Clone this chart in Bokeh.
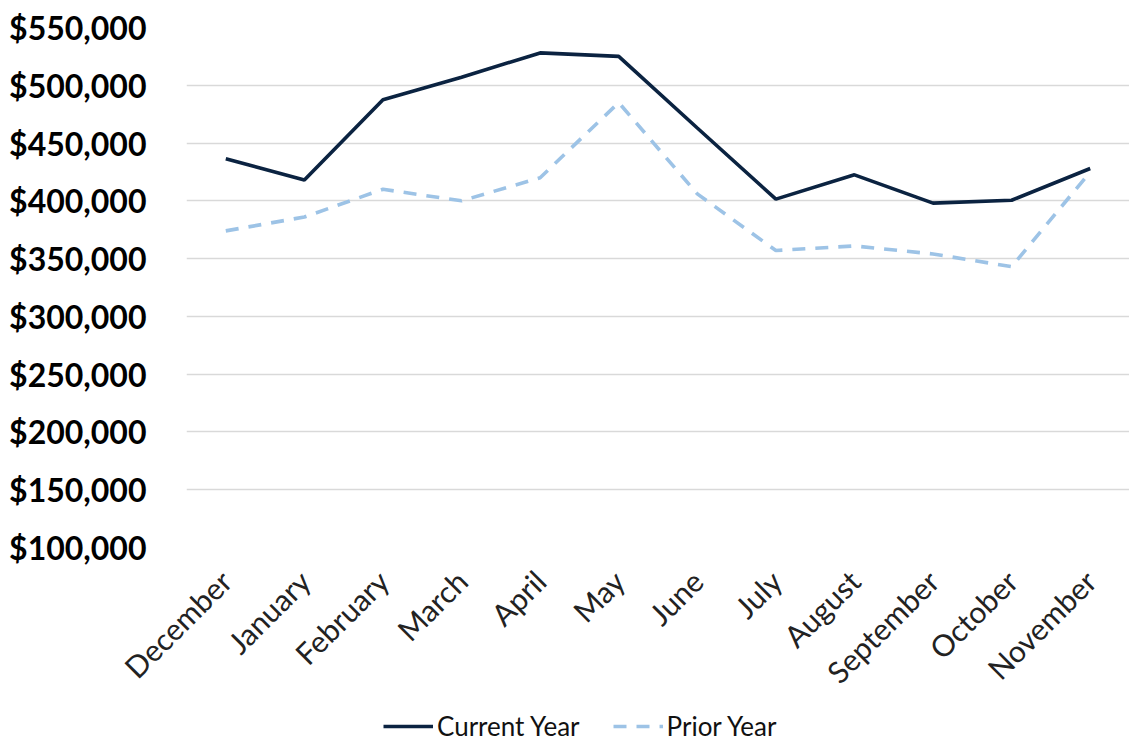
import math
from bokeh.plotting import figure
from bokeh.layouts import column
from bokeh.models import FixedTicker, NumeralTickFormatter, Legend, LegendItem, Range1d
from bokeh.embed import file_html
from bokeh.resources import INLINE

months = ["December", "January", "February", "March", "April", "May",
          "June", "July", "August", "September", "October", "November"]
current_year = [436500, 418000, 487500, 507000, 528000, 525000,
                463000, 401500, 422500, 398000, 400500, 428000]
prior_year = [374000, 386000, 410000, 400000, 420000, 485000,
              406000, 357000, 361000, 354000, 343000, 425000]
y_ticks = [100000, 150000, 200000, 250000, 300000, 350000,
           400000, 450000, 500000, 550000]

CUR_COLOR = "#0b2341"
PRI_COLOR = "#9dc3e6"

p = figure(x_range=months, y_range=(100000, 550000),
           width=1129, height=705, output_backend="svg", toolbar_location=None,
           min_border_left=186, min_border_right=0, min_border_top=27,
           min_border_bottom=158)
p.x_range.range_padding = 0
p.outline_line_color = None
p.background_fill_color = "white"
p.border_fill_color = "white"

p.xgrid.grid_line_color = None
p.ygrid.grid_line_color = "#d9d9d9"
p.ygrid.grid_line_width = 1.3

p.yaxis.ticker = FixedTicker(ticks=y_ticks)
p.yaxis.formatter = NumeralTickFormatter(format="$0,0")
p.yaxis.axis_line_color = None
p.yaxis.major_tick_line_color = None
p.yaxis.minor_tick_line_color = None
p.yaxis.major_label_text_font = "Lato"
p.yaxis.major_label_text_font_style = "bold"
p.yaxis.major_label_text_font_size = "32px"
p.yaxis.major_label_text_color = "#000000"
p.yaxis.major_label_standoff = 34

p.xaxis.axis_line_color = None
p.xaxis.major_tick_line_color = None
p.xaxis.minor_tick_line_color = None
p.xaxis.major_label_orientation = math.pi / 4
p.xaxis.major_label_text_font = "Lato"
p.xaxis.major_label_text_font_size = "30px"
p.xaxis.major_label_text_color = "#222222"
p.xaxis.major_label_standoff = 22

p.line(months, current_year, line_color=CUR_COLOR, line_width=3.6)
p.line(months, prior_year, line_color=PRI_COLOR, line_width=3.6,
       line_dash="13 10")

# legend strip below the chart (sample lines lie outside its visible range)
lg = figure(width=1129, height=38, output_backend="svg", toolbar_location=None,
            x_axis_type=None, y_axis_type=None,
            x_range=Range1d(0, 1), y_range=Range1d(0, 1),
            min_border_left=0, min_border_right=0, min_border_top=0,
            min_border_bottom=0)
lg.outline_line_color = None
lg.xgrid.grid_line_color = None
lg.ygrid.grid_line_color = None
l_cur = lg.line([5, 6], [5, 5], line_color=CUR_COLOR, line_width=3.6)
l_pri = lg.line([5, 6], [5, 5], line_color=PRI_COLOR, line_width=3.6,
                line_dash="13 10")

legend = Legend(items=[LegendItem(label="Current Year", renderers=[l_cur]),
                       LegendItem(label="Prior Year", renderers=[l_pri])],
                location=(197, 1), orientation="horizontal",
                padding=0, margin=0, spacing=33, glyph_width=50,
                glyph_height=24, label_standoff=4,
                label_text_font="Lato", label_text_font_size="26px",
                label_text_color="#111111",
                border_line_color=None, background_fill_alpha=0)
lg.add_layout(legend, "center")

layout = column(p, lg, spacing=0)
open("out.html", "w").write(file_html(layout, INLINE))
